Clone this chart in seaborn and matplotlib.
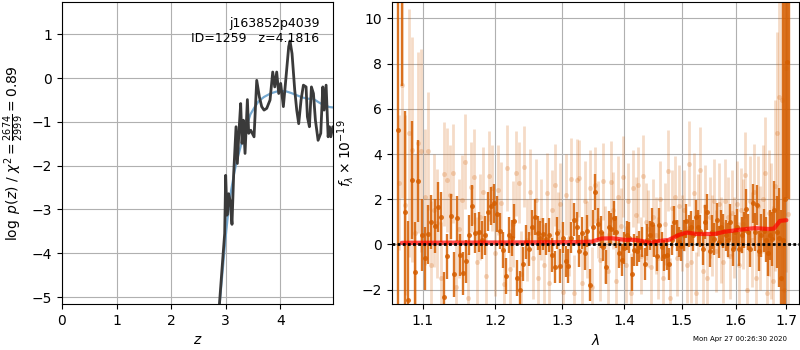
import numpy as np
import matplotlib
matplotlib.use("Agg")
import matplotlib.pyplot as plt
from matplotlib.ticker import NullLocator, FixedLocator
import seaborn as sns

# ---------------- data: left panel (log p(z)) ----------------
pz_z = [2.870, 2.943, 2.980, 2.998, 3.023, 3.053, 3.078, 3.114, 3.145, 3.188,
        3.212, 3.243, 3.273, 3.298, 3.322, 3.353, 3.396, 3.420, 3.457, 3.518,
        3.567, 3.616, 3.658, 3.701, 3.750, 3.811, 3.860, 3.897, 3.933, 3.970,
        4.006, 4.055, 4.104, 4.153, 4.177, 4.214, 4.263, 4.300, 4.336, 4.379,
        4.422, 4.471, 4.495, 4.532, 4.569, 4.606, 4.642, 4.691, 4.740, 4.777,
        4.801, 4.838, 4.875, 4.899, 4.924, 4.960]
pz_val = [-5.40, -4.16, -3.55, -2.22, -3.13, -2.64, -2.79, -3.34, -2.18, -1.11,
          -1.95, -1.19, -0.58, -1.49, -0.96, -1.72, -0.49, -1.26, -1.19, -1.34,
          -0.05, -0.43, -0.65, -0.73, -0.69, -0.50, 0.14, -0.20, 0.14, -0.35,
          -0.12, -0.65, 0.03, 0.72, 0.85, 0.56, -0.27, -0.73, -1.04, -0.50,
          -0.16, -0.20, -0.88, -1.11, -0.20, -0.35, -0.96, -1.42, -1.26, -0.20,
          -0.73, -0.16, -1.34, -1.11, -1.34, -1.11]
prior_z = [2.87, 2.95, 3.00, 3.05, 3.10, 3.15, 3.20, 3.26, 3.33, 3.40, 3.45,
           3.52, 3.60, 3.70, 3.82, 3.92, 4.00, 4.10, 4.20, 4.30, 4.40, 4.50,
           4.60, 4.70, 4.80, 4.90, 4.97]
prior_val = [-5.40, -4.30, -3.60, -3.00, -2.55, -2.20, -1.90, -1.62, -1.30,
             -1.02, -0.83, -0.68, -0.53, -0.43, -0.35, -0.31, -0.29, -0.30,
             -0.34, -0.39, -0.44, -0.47, -0.47, -0.55, -0.62, -0.66, -0.67]
left_xticks = [0, 1, 2, 3, 4]
left_yticks = [-5, -4, -3, -2, -1, 0, 1]

# ---------------- data: right panel (spectrum) ----------------
dark_flux = [
    5.07, 12.0, 1.42, -2.46, 2.84, -1.23, 2.80, 0.43, -0.62, 0.44, 1.00, 0.81,
    1.66, 1.22, -2.32, -0.52, 1.25, -1.32, 1.16, -0.47, -1.28, -0.75, 0.41,
    1.71, 0.50, 0.55, 0.20, 0.40, 1.45,
    1.70, 1.81, 1.35, 0.60, -0.25, -1.40, 0.40, 0.30, 1.03, -1.50, -2.00,
    -0.85, 0.10, -0.20, 0.75, 1.20, 0.50, 0.30, 0.45, 0.25, 0.40, -0.47,
    -1.00, 0.50, -0.95, 0.30, -0.75, -0.95, 0.30, 1.10, 0.75, -0.28, 0.50,
    -0.40, 0.60,
    -1.80, 0.78, 2.31, 0.90, 0.54, -0.10, -0.99, 0.78, 0.70, 1.15, 0.54,
    -0.40, -0.70, -0.15, 0.40, 0.30, -1.33, -0.25, -0.30, -0.10, 0.10, -0.87,
    0.20, 0.40, 0.90, 0.15, -0.50, 0.85, -0.10, -0.50, -0.45, -0.87, 0.20,
    1.00, 0.40, 0.10, -0.05, 0.40, 1.05, 0.60, 0.78, 0.40, 1.20,
    0.78, 0.60, -0.20, 1.00, 1.45, -0.30, 0.54, 0.25, 1.10, 0.10, 0.78, 0.60,
    0.40, 0.20, 1.00, -0.20, 0.54, 0.78, -0.20, 0.40, 0.65, 1.58, 0.54,
    -0.20, 1.81, 0.54, 1.75, -0.30, 0.40, 0.60, 0.20, -0.40, 0.40, 0.25,
    1.50, 0.54, 0.30, -1.50, 0.20, 2.00, 8.07, 13.0]
dark_err = [
    9.0, 5.0, 4.5, 3.5, 2.6, 2.2, 1.8, 1.6, 1.4, 1.3, 1.2, 1.2, 1.1, 1.1, 1.1,
    1.0, 1.0, 1.0, 1.0, 0.95, 0.95, 0.95, 0.9, 0.9, 0.9, 0.9, 0.85, 0.85, 0.85,
    0.85, 0.85, 0.8, 0.8, 0.8, 0.8, 0.8, 0.8, 0.75, 0.8, 0.8, 0.75, 0.75, 0.75,
    0.75, 0.8, 0.75, 0.75, 0.7, 0.7, 0.75, 0.75, 0.7, 0.7, 0.75, 0.7, 0.7,
    0.75, 0.7, 0.75, 0.7, 0.7, 0.7, 0.75, 0.7,
    0.7, 0.75, 0.8, 0.7, 0.7, 0.65, 0.75, 0.7, 0.7, 0.75, 0.7, 0.65, 0.7, 0.7,
    0.65, 0.7, 0.75, 0.7, 0.65, 0.7, 0.65, 0.7, 0.7, 0.65, 0.7, 0.7, 0.7,
    0.75, 0.65, 0.7, 0.7, 0.7, 0.65, 0.7, 0.7, 0.65, 0.7, 0.7, 0.75, 0.7, 0.7,
    0.7, 0.75,
    0.75, 0.7, 0.7, 0.75, 0.8, 0.7, 0.75, 0.7, 0.75, 0.7, 0.75, 0.75, 0.7,
    0.75, 0.8, 0.75, 0.75, 0.8, 0.75, 0.8, 0.8, 0.85, 0.8, 0.8, 0.85, 0.85,
    0.9, 0.9, 0.95, 0.95, 1.0, 1.0, 1.1, 1.2, 1.3, 1.6, 2.2, 3.0, 12.0, 12.0,
    6.0, 11.0]
dark_wave_range = (1.0685, 1.7060)

light_flux = [
    2.73, 7.05, 1.74, 4.94, 4.20, 0.49, 4.50, 4.15,
    2.10, 4.13, -0.90, 1.52, 0.93, -1.50, 3.10, 2.85, 2.18,
    3.14, -1.90, 0.70, 1.96, 3.66, -2.36, 2.55, 2.99, -0.80, 1.20,
    2.30, -1.40, 3.02, 2.48, -0.40, 2.40, 1.84, -1.76, 3.38, -1.10, 0.90,
    3.14, 2.73, -1.30, 3.44, 0.20, 2.33, -0.60, 1.96, -1.50, 1.10, -0.90,
    2.26, -1.73, 1.50, 2.63, 0.60, 1.80, -2.10, 2.20, 0.30, 2.90, -2.17,
    2.85, 2.92, -1.73, 1.90, 0.20, 2.50, -1.90, 2.63, 1.10, -0.70, 2.80, 0.00,
    -1.20, 2.77, 1.50, -1.60, 2.10, 0.80, 2.99, -0.90, 1.90, -2.17, 2.48, 1.30,
    2.63, -0.50, 3.02, 1.00, 0.70, -1.00, 1.20, 0.40, -0.60, 2.00, -1.50, 0.90,
    3.26, -2.39, 1.60, 2.10, -0.60, 1.70, 0.50, 1.50, -0.90, 3.58, -0.80, 2.26,
    -2.14, 1.30, 3.29, -1.20, 1.70, -1.50, 1.20, 0.40, 1.90, -0.30, 1.80,
    0.20, -0.80,
    1.90, 1.20, -0.50, 1.40, 0.30, 1.80, -0.90, 1.50, 0.90, 3.07, -2.02, 1.90,
    0.20,
    2.33, -1.50, 1.70, 0.30, 2.00, 3.14, -2.17, 1.40, 0.60, -1.60, 2.60, 4.91,
    6.53,
    6.39, -2.00, 7.79, 1.35]
light_err = [
    3.0, 5.0, 4.0, 5.5, 5.0, 3.5, 4.0, 4.5,
    3.0, 2.6, 2.8, 2.5, 2.4, 2.5, 2.3, 2.3, 2.2,
    2.2, 2.1, 2.2, 2.0, 2.1, 2.0, 2.0, 2.1, 2.0, 1.9,
    2.0, 1.9, 2.0, 1.9, 1.9, 2.0, 1.8, 1.9, 1.9, 1.8, 1.9,
    1.9, 1.8, 1.9, 1.8, 1.8, 1.9, 1.8, 1.8, 1.7, 1.8, 1.8,
    1.8, 1.7, 1.8, 1.8, 1.7, 1.8, 1.7, 1.8, 1.7, 1.8, 1.7,
    1.8, 1.7, 1.7, 1.8, 1.7, 1.7, 1.8, 1.7, 1.7, 1.8, 1.7, 1.7,
    1.7, 1.8, 1.7, 1.7, 1.8, 1.7, 1.8, 1.7, 1.7, 1.8, 1.7, 1.7,
    1.7, 1.7, 1.8, 1.7, 1.7, 1.8, 1.7, 1.7, 1.8, 1.7, 1.7, 1.8,
    1.8, 1.8, 1.7, 1.8, 1.7, 1.8, 1.7, 1.8, 1.7, 1.9, 1.8, 1.8,
    1.8, 1.8, 1.9, 1.8, 1.8, 1.9, 1.8, 1.8, 1.9, 1.8, 1.8, 1.9, 1.8,
    1.9, 1.8, 1.9, 1.9, 1.8, 1.9, 1.9, 1.9, 2.0, 1.9, 2.0, 2.0, 2.1,
    2.1, 2.2, 2.2, 2.3, 2.4, 2.5, 2.6, 2.8, 3.0, 3.3, 3.8, 4.5, 5.0,
    8.0, 10.0, 9.0, 10.0]
light_wave_range = (1.0690, 1.7030)

model_wave = [1.073, 1.150, 1.250, 1.320, 1.347, 1.363, 1.380, 1.401, 1.418,
              1.432, 1.444, 1.460, 1.477, 1.495, 1.509, 1.527, 1.560, 1.579,
              1.612, 1.637, 1.665, 1.675, 1.687, 1.700]
model_flux = [0.07, 0.08, 0.09, 0.10, 0.12, 0.26, 0.27, 0.20, 0.20, 0.14,
              0.07, 0.15, 0.20, 0.42, 0.52, 0.46, 0.46, 0.56, 0.66, 0.72,
              0.68, 0.70, 1.04, 1.07]

right_xticks = [1.1, 1.2, 1.3, 1.4, 1.5, 1.6, 1.7]
right_xticklabels = ["1.1", "1.2", "1.3", "1.4", "1.5", "1.6", "1.7"]
right_yticks = [-2, 0, 2, 4, 6, 8, 10]

title_text = "j163852p4039\nID=1259   z=4.1816"
stamp_text = "Mon Apr 27 00:26:30 2020"

# ---------------- style ----------------
sns.set_style("whitegrid", {
    "axes.edgecolor": "black", "axes.linewidth": 1.0,
    "grid.color": "#b0b0b0", "grid.linewidth": 0.8,
    "xtick.bottom": True, "ytick.left": True,
    "xtick.color": "black", "ytick.color": "black",
    "text.color": "black", "axes.labelcolor": "black",
})
plt.rcParams["font.family"] = ["DejaVu Sans"]
plt.rcParams["font.size"] = 10
plt.rcParams["xtick.major.size"] = 3.5
plt.rcParams["ytick.major.size"] = 3.5

fig = plt.figure(figsize=(8, 3.5), dpi=100)
axl = fig.add_axes([0.0775, 0.1314, 0.3388, 0.8629])
axr = fig.add_axes([0.4900, 0.1314, 0.5088, 0.8629])

# ---------------- left panel ----------------
sns.lineplot(x=prior_z, y=prior_val, ax=axl, color="#76a9d1", lw=1.6,
             sort=False, zorder=2)
sns.lineplot(x=pz_z, y=pz_val, ax=axl, color="#3a3a3a", lw=2.0,
             sort=False, zorder=3)
axl.set_xlim(0, 4.965)
axl.set_ylim(-5.16, 1.74)
axl.set_xticks(left_xticks)
axl.set_yticks(left_yticks)
axl.set_xlabel(r"$z$")
axl.set_ylabel(r"$\log\ p(z)$ / $\chi^2=\frac{2674}{2999}=0.89$")
axl.text(0.95, 0.95, title_text, ha="right", va="top",
         transform=axl.transAxes, fontsize=9)
axl.grid(True)

# ---------------- right panel ----------------
col = "#d55e00"
light_wave = np.linspace(light_wave_range[0], light_wave_range[1], len(light_flux))
dark_wave = np.linspace(dark_wave_range[0], dark_wave_range[1], len(dark_flux))

axr.errorbar(light_wave, light_flux, yerr=light_err, fmt="o", color=col,
             alpha=0.22, ms=3.6, elinewidth=2.0, mew=0, zorder=1)
axr.errorbar(dark_wave, dark_flux, yerr=dark_err, fmt="o", color=col,
             alpha=0.85, ms=3.6, elinewidth=1.7, mew=0, zorder=2)
sns.lineplot(x=model_wave, y=model_flux, ax=axr, color="red", lw=3.0,
             alpha=0.7, sort=False, zorder=3)
axr.axhline(0, color="black", lw=2.0, ls=(0, (1, 0.85)), zorder=4)

axr.set_xscale("log")
axr.set_xlim(1.0605, 1.726)
axr.xaxis.set_major_locator(FixedLocator(right_xticks))
axr.set_xticklabels(right_xticklabels)
axr.xaxis.set_minor_locator(NullLocator())
axr.set_ylim(-2.64, 10.73)
axr.set_yticks(right_yticks)
axr.set_xlabel(r"$\lambda$")
axr.set_ylabel(r"$f_\lambda\times 10^{-19}$")
axr.grid(True)

for ax in (axl, axr):
    ax.set_axisbelow(True)
    for s in ax.spines.values():
        s.set_color("black")

fig.text(0.984, 0.022, stamp_text, ha="right", va="bottom", fontsize=5)

fig.savefig("out.png", dpi=100)
